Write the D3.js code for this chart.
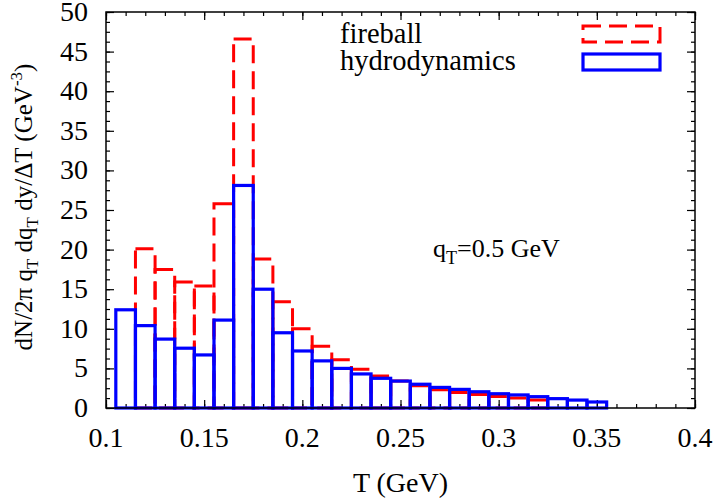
<!DOCTYPE html>
<html>
<head>
<meta charset="utf-8">
<script src="https://cdn.jsdelivr.net/npm/d3@7"></script>
<style>
  body { margin: 0; background: #fff; }
  svg text { font-family: "Liberation Serif", "Times New Roman", serif; fill: #000; }
</style>
</head>
<body>
<div id="chart"></div>
<script>
// bin centres (GeV), bin width 0.01
var hydroT = [0.11, 0.12, 0.13, 0.14, 0.15, 0.16, 0.17, 0.18, 0.19, 0.20, 0.21, 0.22, 0.23,
              0.24, 0.25, 0.26, 0.27, 0.28, 0.29, 0.30, 0.31, 0.32, 0.33, 0.34, 0.35];
var hydroVals = [12.4, 10.4, 8.7, 7.55, 6.7, 11.1, 28.1, 15.0, 9.5, 7.2, 5.95, 5.0, 4.3,
                 3.75, 3.4, 3.0, 2.6, 2.35, 2.05, 1.8, 1.65, 1.43, 1.18, 1.0, 0.76];
var fireT = [0.12, 0.13, 0.14, 0.15, 0.16, 0.17, 0.18, 0.19, 0.20, 0.21, 0.22,
             0.23, 0.24, 0.25, 0.26, 0.27, 0.28, 0.29, 0.30, 0.31, 0.32];
var fireVals = [20.1, 17.5, 15.9, 15.4, 25.8, 46.6, 18.8, 13.4, 10.0, 7.8, 6.1,
                4.9, 4.05, 3.4, 2.8, 2.3, 1.95, 1.7, 1.45, 1.25, 1.0];
var binWidth = 0.01;
var xTicks = [0.1, 0.15, 0.2, 0.25, 0.3, 0.35, 0.4];
var yTicks = [0, 5, 10, 15, 20, 25, 30, 35, 40, 45, 50];

var width = 719, height = 498;
var plotL = 106, plotR = 695, plotT = 12, plotB = 408;

var svg = d3.select("#chart").append("svg")
  .attr("width", width)
  .attr("height", height);

var x = d3.scaleLinear().domain([0.1, 0.4]).range([plotL, plotR]);
var y = d3.scaleLinear().domain([0, 50]).range([plotB, plotT]);

// minor ticks
var xMinor = d3.range(0, 31).map(function(i) { return 0.1 + i * 0.01; });
var yMinor = d3.range(0, 41).map(function(i) { return i * 1.25; });

function addAxis(axisFn, scale, ticks, len, tx, ty) {
  var g = svg.append("g")
    .attr("transform", "translate(" + tx + "," + ty + ")")
    .call(axisFn(scale).tickValues(ticks).tickSizeInner(len).tickSizeOuter(0).tickFormat(""));
  g.select(".domain").remove();
  g.selectAll("line").attr("stroke", "#000").attr("stroke-width", 1.2);
  return g;
}

// inward ticks on all four sides, like gnuplot mirror
addAxis(d3.axisTop, x, xMinor, 4, 0, plotB);
addAxis(d3.axisTop, x, xTicks, 8, 0, plotB);
addAxis(d3.axisBottom, x, xMinor, 4, 0, plotT);
addAxis(d3.axisBottom, x, xTicks, 8, 0, plotT);
addAxis(d3.axisRight, y, yMinor, 4, plotL, 0);
addAxis(d3.axisRight, y, yTicks, 8, plotL, 0);
addAxis(d3.axisLeft, y, yMinor, 4, plotR, 0);
addAxis(d3.axisLeft, y, yTicks, 8, plotR, 0);

// tick labels
svg.append("g").selectAll("text").data(xTicks).enter().append("text")
  .attr("x", function(d) { return x(d); })
  .attr("y", 447)
  .attr("text-anchor", "middle")
  .style("font-size", "28px")
  .text(function(d) { return d; });

svg.append("g").selectAll("text").data(yTicks).enter().append("text")
  .attr("x", 88)
  .attr("y", function(d) { return y(d) + 9; })
  .attr("text-anchor", "end")
  .style("font-size", "28px")
  .text(function(d) { return d; });

// histograms: fireball first (red dashed), hydro on top (blue)
function drawBoxes(ts, vals, color, dash, sw) {
  svg.append("g").selectAll("rect").data(ts).enter().append("rect")
    .attr("x", function(d) { return x(d - binWidth / 2); })
    .attr("y", function(d, i) { return y(vals[i]); })
    .attr("width", function(d) { return x(d + binWidth / 2) - x(d - binWidth / 2); })
    .attr("height", function(d, i) { return y(0) - y(vals[i]); })
    .attr("fill", "none")
    .attr("stroke", color)
    .attr("stroke-width", sw)
    .attr("stroke-dasharray", dash);
}
drawBoxes(fireT, fireVals, "#ff0000", "18,8", 3);
drawBoxes(hydroT, hydroVals, "#0000ff", null, 3.2);

// frame
svg.append("rect")
  .attr("x", plotL).attr("y", plotT)
  .attr("width", plotR - plotL).attr("height", plotB - plotT)
  .attr("fill", "none").attr("stroke", "#000").attr("stroke-width", 1.5);

// legend
svg.append("text").attr("x", 340).attr("y", 43).style("font-size", "28.5px").text("fireball");
svg.append("text").attr("x", 340).attr("y", 70).style("font-size", "28.5px").text("hydrodynamics");
svg.append("rect").attr("x", 583).attr("y", 26).attr("width", 77).attr("height", 16)
  .attr("fill", "none").attr("stroke", "#ff0000").attr("stroke-width", 3)
  .attr("stroke-dasharray", "18,8");
svg.append("rect").attr("x", 583).attr("y", 54).attr("width", 77).attr("height", 16)
  .attr("fill", "none").attr("stroke", "#0000ff").attr("stroke-width", 3.2);

// annotation
var ann = svg.append("text").attr("x", 433).attr("y", 257).style("font-size", "26px");
ann.append("tspan").text("q");
ann.append("tspan").attr("dy", 7).style("font-size", "18px").text("T");
ann.append("tspan").attr("dy", -7).text("=0.5 GeV");

// axis titles
svg.append("text")
  .attr("x", x(0.25)).attr("y", 492)
  .attr("text-anchor", "middle")
  .style("font-size", "28px")
  .text("T (GeV)");

var yl = svg.append("text")
  .attr("transform", "translate(32,207) rotate(-90)")
  .attr("text-anchor", "middle")
  .style("font-size", "25px");
yl.append("tspan").text("dN/2\u03c0 q");
yl.append("tspan").attr("dy", 6).style("font-size", "17px").text("T");
yl.append("tspan").attr("dy", -6).text(" dq");
yl.append("tspan").attr("dy", 6).style("font-size", "17px").text("T");
yl.append("tspan").attr("dy", -6).text(" dy/\u0394T (GeV");
yl.append("tspan").attr("dy", -10).style("font-size", "17px").text("-3");
yl.append("tspan").attr("dy", 10).text(")");
</script>
</body>
</html>
